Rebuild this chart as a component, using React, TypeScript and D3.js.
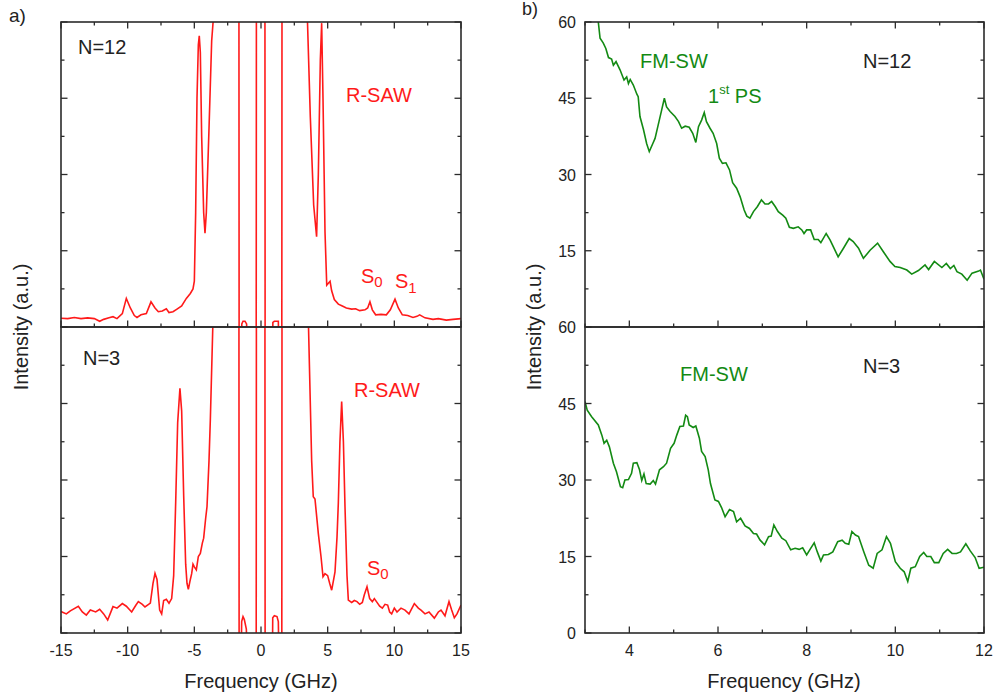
import React from 'react';
import * as d3 from 'd3';

// a) Brillouin spectra, intensity in arbitrary units (0-8 visible); 12 / -1 mean off-scale
const spectrumN12: [number, number][] = [
  [-15, 0.23], [-14.5, 0.22], [-14, 0.25], [-13.5, 0.22], [-13, 0.24], [-12.5, 0.22], [-12.1, 0.15],
  [-11.8, 0.2], [-11.4, 0.24], [-11.1, 0.27], [-10.8, 0.22], [-10.4, 0.35], [-10.1, 0.75], [-9.8, 0.5],
  [-9.5, 0.3], [-9.3, 0.25], [-9.0, 0.32], [-8.6, 0.35], [-8.25, 0.66], [-7.95, 0.5], [-7.7, 0.4],
  [-7.4, 0.42], [-7.1, 0.48], [-6.9, 0.38], [-6.6, 0.4], [-6.3, 0.47], [-5.95, 0.55], [-5.6, 0.75],
  [-5.3, 0.88], [-5.1, 1.0], [-5.0, 1.2], [-4.9, 3.0], [-4.8, 6.0], [-4.7, 7.4], [-4.63, 7.64],
  [-4.55, 7.2], [-4.45, 5.0], [-4.3, 3.0], [-4.2, 2.46], [-4.1, 3.0], [-3.9, 5.2], [-3.7, 7.5],
  [-3.55, 8.2], [-3.3, 12], [-1.66, 12], [-1.64, -1], [-1.47, -1], [-1.44, 0.08], [-1.35, 0.15],
  [-1.2, 0.15], [-1.08, 0.08], [-1.0, -1], [-0.36, -1], [-0.34, 12], [0.29, 12], [0.31, -1],
  [0.86, -1], [0.89, 0.12], [1.0, 0.15], [1.3, 0.15], [1.36, -1], [1.56, -1], [1.58, 12], [3.2, 12],
  [3.47, 8.2], [3.7, 5.5], [3.95, 3.2], [4.17, 2.37], [4.3, 4.0], [4.45, 7.0], [4.55, 7.97],
  [4.65, 6.0], [4.8, 2.5], [4.93, 1.1], [5.05, 1.15], [5.18, 1.2], [5.3, 0.95], [5.5, 0.72],
  [5.8, 0.6], [6.1, 0.55], [6.4, 0.5], [6.8, 0.47], [7.1, 0.48], [7.4, 0.43], [7.8, 0.45],
  [8.0, 0.5], [8.17, 0.66], [8.35, 0.45], [8.6, 0.32], [9.0, 0.33], [9.4, 0.32], [9.7, 0.45],
  [10.05, 0.73], [10.3, 0.5], [10.6, 0.32], [11.0, 0.3], [11.4, 0.25], [11.7, 0.28], [11.9, 0.32],
  [12.3, 0.24], [12.9, 0.2], [13.3, 0.22], [13.9, 0.18], [14.4, 0.2], [15, 0.22],
];

const spectrumN3: [number, number][] = [
  [-15, 0.56], [-14.6, 0.5], [-14.3, 0.58], [-13.7, 0.7], [-13.4, 0.55], [-13.1, 0.47], [-12.8, 0.6],
  [-12.4, 0.55], [-12.1, 0.62], [-11.8, 0.5], [-11.5, 0.34], [-11.1, 0.69], [-10.8, 0.65], [-10.4, 0.77],
  [-10.1, 0.7], [-9.7, 0.55], [-9.4, 0.72], [-9.2, 0.82], [-8.9, 0.75], [-8.7, 0.68], [-8.3, 0.78],
  [-8.1, 1.3], [-7.95, 1.56], [-7.8, 1.4], [-7.6, 0.6], [-7.45, 0.5], [-7.3, 0.85], [-7.1, 0.88],
  [-6.9, 0.78], [-6.7, 0.9], [-6.55, 1.5], [-6.4, 3.4], [-6.25, 5.5], [-6.08, 6.4], [-5.95, 5.8],
  [-5.8, 3.6], [-5.65, 1.8], [-5.55, 1.3], [-5.45, 1.14], [-5.3, 1.4], [-5.2, 1.55], [-5.1, 1.8],
  [-5.0, 1.73], [-4.85, 1.65], [-4.7, 2.0], [-4.55, 2.08], [-4.4, 2.35], [-4.3, 2.48], [-4.15, 3.0],
  [-4.05, 3.3], [-3.9, 4.5], [-3.8, 5.57], [-3.6, 8.2], [-3.4, 12], [-1.66, 12], [-1.64, -1],
  [-1.5, -1], [-1.45, 0.3], [-1.35, 0.43], [-1.25, 0.35], [-1.1, 0.1], [-1.0, -1], [-0.36, -1],
  [-0.34, 12], [0.29, 12], [0.31, -1], [0.85, -1], [0.88, 0.4], [1.0, 0.45], [1.2, 0.43], [1.3, 0.3],
  [1.36, -1], [1.56, -1], [1.58, 12], [3.3, 12], [3.55, 8.2], [3.8, 4.5], [3.92, 3.56], [4.05, 3.5],
  [4.3, 2.6], [4.5, 2.0], [4.65, 1.47], [4.8, 1.55], [5.0, 1.5], [5.15, 1.3], [5.3, 1.12], [5.45, 1.4],
  [5.55, 1.6], [5.7, 2.5], [5.8, 3.4], [5.92, 5.0], [6.05, 6.05], [6.18, 5.0], [6.3, 3.3], [6.45, 1.5],
  [6.55, 0.86], [6.8, 0.8], [7.0, 0.85], [7.2, 0.82], [7.4, 0.75], [7.6, 0.8], [7.75, 1.0], [7.95, 1.21],
  [8.15, 0.9], [8.35, 0.82], [8.5, 0.9], [8.7, 0.8], [8.9, 0.7], [9.1, 0.65], [9.3, 0.75], [9.5, 0.73],
  [9.65, 0.55], [9.8, 0.5], [10.0, 0.65], [10.2, 0.55], [10.5, 0.65], [10.8, 0.6], [11.1, 0.5],
  [11.5, 0.77], [11.8, 0.65], [12.0, 0.6], [12.3, 0.5], [12.6, 0.55], [13.0, 0.39], [13.3, 0.55],
  [13.5, 0.6], [13.8, 0.45], [14.1, 0.82], [14.3, 0.6], [14.5, 0.4], [14.7, 0.5], [15, 0.73],
];

// b) zoom on the spin-wave region
const swN12: [number, number][] = [
  [3.3, 60], [3.34, 56.8], [3.41, 55.9], [3.47, 54.8], [3.53, 53.0], [3.6, 52.7], [3.64, 51.5],
  [3.7, 52.2], [3.79, 50.6], [3.88, 48.6], [3.94, 49.2], [3.98, 47.9], [4.02, 48.7], [4.09, 47.6],
  [4.17, 45.8], [4.2, 45.3], [4.24, 41.4], [4.32, 38.8], [4.39, 36.1], [4.45, 34.5], [4.53, 36.1],
  [4.58, 37.1], [4.65, 39.7], [4.73, 42.7], [4.79, 45.0], [4.84, 43.3], [4.92, 42.4], [5.03, 41.4],
  [5.11, 40.4], [5.18, 39.1], [5.26, 39.5], [5.35, 39.3], [5.43, 38.1], [5.5, 36.3], [5.56, 39.4],
  [5.63, 40.7], [5.69, 42.2], [5.74, 40.4], [5.82, 39.1], [5.89, 38.1], [5.97, 36.1], [6.03, 33.2],
  [6.1, 32.2], [6.18, 32.3], [6.26, 30.9], [6.33, 28.4], [6.42, 27.3], [6.5, 25.6], [6.59, 23.0],
  [6.65, 21.8], [6.72, 21.4], [6.8, 22.7], [6.89, 23.7], [6.98, 25.0], [7.06, 24.2], [7.14, 24.2],
  [7.21, 24.7], [7.29, 23.7], [7.36, 22.7], [7.46, 22.0], [7.53, 21.4], [7.61, 19.6], [7.7, 19.4],
  [7.81, 19.7], [7.89, 19.1], [7.94, 18.4], [8.0, 19.1], [8.09, 19.1], [8.17, 17.2], [8.26, 17.2],
  [8.32, 16.6], [8.44, 18.4], [8.53, 17.1], [8.6, 15.8], [8.71, 13.8], [8.83, 15.5], [8.96, 17.4],
  [9.05, 16.8], [9.17, 15.5], [9.28, 13.5], [9.43, 15.1], [9.6, 16.5], [9.73, 14.8], [9.88, 12.9],
  [9.99, 11.9], [10.11, 11.7], [10.26, 11.2], [10.37, 10.4], [10.52, 11.1], [10.67, 12.2], [10.75, 11.3],
  [10.88, 12.9], [11.05, 11.7], [11.15, 12.5], [11.24, 11.5], [11.32, 12.1], [11.39, 10.9], [11.5, 10.4],
  [11.62, 9.2], [11.73, 10.6], [11.88, 11.0], [11.92, 11.2], [12, 9.4],
];

const swN3: [number, number][] = [
  [3, 45.4], [3.05, 43.7], [3.15, 42.4], [3.3, 40.8], [3.38, 38.8], [3.43, 37.2], [3.49, 37.8],
  [3.55, 36.5], [3.64, 33.3], [3.71, 31.6], [3.8, 28.7], [3.85, 28.5], [3.9, 30.0], [3.98, 30.1],
  [4.05, 31.3], [4.09, 33.3], [4.17, 33.4], [4.23, 32.0], [4.28, 29.9], [4.33, 31.2], [4.38, 29.3],
  [4.47, 29.2], [4.54, 29.9], [4.59, 29.2], [4.68, 32.0], [4.77, 32.6], [4.84, 33.3], [4.93, 36.2],
  [5.01, 37.2], [5.07, 38.8], [5.14, 40.5], [5.22, 40.6], [5.27, 42.7], [5.31, 42.4], [5.35, 40.8],
  [5.44, 40.3], [5.5, 40.6], [5.58, 38.2], [5.63, 35.6], [5.71, 34.6], [5.78, 32.0], [5.83, 29.3],
  [5.93, 26.1], [6.01, 25.8], [6.08, 24.6], [6.16, 22.8], [6.26, 24.2], [6.35, 23.8], [6.42, 21.8],
  [6.51, 22.5], [6.61, 21.0], [6.71, 20.5], [6.8, 19.5], [6.87, 19.4], [6.95, 18.2], [7.05, 17.3],
  [7.14, 18.9], [7.2, 19.0], [7.26, 21.2], [7.34, 19.9], [7.44, 18.6], [7.53, 18.1], [7.64, 16.3],
  [7.74, 16.6], [7.83, 16.4], [7.91, 16.7], [8.0, 15.3], [8.09, 16.6], [8.17, 17.7], [8.24, 15.9],
  [8.32, 14.1], [8.38, 15.3], [8.49, 15.4], [8.59, 15.9], [8.7, 17.9], [8.8, 18.2], [8.87, 17.6],
  [8.95, 17.4], [9.02, 19.9], [9.1, 19.2], [9.17, 18.9], [9.29, 15.9], [9.4, 13.3], [9.5, 12.7],
  [9.59, 15.6], [9.7, 16.3], [9.8, 18.9], [9.89, 17.6], [10.0, 14.0], [10.11, 12.7], [10.2, 12.0],
  [10.28, 10.1], [10.35, 12.7], [10.45, 13.0], [10.55, 15.0], [10.64, 15.8], [10.71, 15.0], [10.8, 15.0],
  [10.88, 13.8], [10.98, 13.8], [11.08, 15.6], [11.18, 16.4], [11.28, 15.6], [11.38, 15.6], [11.47, 15.9],
  [11.59, 17.5], [11.69, 16.1], [11.8, 14.8], [11.89, 12.7], [12, 12.9],
];

const leftXTicks = d3.range(-15, 15.01, 2.5);
const leftXLabels = [-15, -10, -5, 0, 5, 10, 15];
const leftYTicks = d3.range(0, 8.01, 1);
const rightXTicks = d3.range(3, 12.01, 1);
const rightXLabels = [4, 6, 8, 10, 12];
const rightYTicks = d3.range(0, 60.01, 7.5);
const rightYLabels = [0, 15, 30, 45, 60];

const RED = '#ff1a1a';
const GREEN = '#138a13';
const AXIS = '#2b2b2b';
const FONT = '"Liberation Sans", Arial, sans-serif';

const TOP = 22, MID = 327, BOT = 633;

type Scale = d3.ScaleLinear<number, number>;

function Frame({ x, y, top, bottom, xTicks, xMajor, yTicks, yMajor, topTicks }: {
  x: Scale; y: Scale; top: number; bottom: number;
  xTicks: number[]; xMajor: (v: number) => boolean;
  yTicks: number[]; yMajor: (v: number) => boolean; topTicks: boolean;
}) {
  const [x0, x1] = x.range();
  const len = (m: boolean) => (m ? 6.5 : 3.5);
  return (
    <g stroke={AXIS} fill="none">
      {xTicks.map((t, i) => (
        <g key={'x' + i}>
          <line x1={x(t)} x2={x(t)} y1={bottom} y2={bottom - len(xMajor(t))} strokeWidth={1.3} />
          {topTicks && <line x1={x(t)} x2={x(t)} y1={top} y2={top + len(xMajor(t))} strokeWidth={1.3} />}
        </g>
      ))}
      {yTicks.map((t, i) => (
        <g key={'y' + i}>
          <line x1={x0} x2={x0 + len(yMajor(t))} y1={y(t)} y2={y(t)} strokeWidth={1.3} />
          <line x1={x1} x2={x1 - len(yMajor(t))} y1={y(t)} y2={y(t)} strokeWidth={1.3} />
        </g>
      ))}
      <rect x={x0} y={top} width={x1 - x0} height={bottom - top} strokeWidth={1.6} />
    </g>
  );
}

export default function App() {
  const xL = d3.scaleLinear().domain([-15, 15]).range([61, 461]);
  const xR = d3.scaleLinear().domain([3, 12]).range([585, 984]);
  const yLTop = d3.scaleLinear().domain([0, 8]).range([MID, TOP]);
  const yLBot = d3.scaleLinear().domain([0, 8]).range([BOT, MID]);
  const yRTop = d3.scaleLinear().domain([0, 60]).range([MID, TOP]);
  const yRBot = d3.scaleLinear().domain([0, 60]).range([BOT, MID]);

  const path = (x: Scale, y: Scale, data: [number, number][]) =>
    d3.line<[number, number]>().x(d => x(d[0])).y(d => y(d[1]))(data) || '';

  const isInt = (v: number) => Math.abs(v % 5) < 1e-6;
  const isEven = (v: number) => Math.abs(v % 2) < 1e-6;
  const is15 = (v: number) => Math.abs(v % 15) < 1e-6;

  return (
    <div style={{ position: 'absolute', left: 0, top: 0 }}>
      <svg width={997} height={698} style={{ display: 'block', background: '#fff' }} fontFamily={FONT}>
        <defs>
          <clipPath id="cLT"><rect x={61} y={TOP} width={400} height={MID - TOP} /></clipPath>
          <clipPath id="cLB"><rect x={61} y={MID} width={400} height={BOT - MID} /></clipPath>
          <clipPath id="cRT"><rect x={585} y={TOP} width={399} height={MID - TOP} /></clipPath>
          <clipPath id="cRB"><rect x={585} y={MID} width={399} height={BOT - MID} /></clipPath>
        </defs>

        {/* curves */}
        <path d={path(xL, yLTop, spectrumN12)} clipPath="url(#cLT)" fill="none" stroke={RED} strokeWidth={1.6} />
        <path d={path(xL, yLBot, spectrumN3)} clipPath="url(#cLB)" fill="none" stroke={RED} strokeWidth={1.6} />
        <path d={path(xR, yRTop, swN12)} clipPath="url(#cRT)" fill="none" stroke={GREEN} strokeWidth={1.6} />
        <path d={path(xR, yRBot, swN3)} clipPath="url(#cRB)" fill="none" stroke={GREEN} strokeWidth={1.6} />

        {/* frames */}
        <Frame x={xL} y={yLTop} top={TOP} bottom={MID} xTicks={leftXTicks} xMajor={isInt} yTicks={leftYTicks} yMajor={isEven} topTicks />
        <Frame x={xL} y={yLBot} top={MID} bottom={BOT} xTicks={leftXTicks} xMajor={isInt} yTicks={leftYTicks} yMajor={isEven} topTicks={false} />
        <Frame x={xR} y={yRTop} top={TOP} bottom={MID} xTicks={rightXTicks} xMajor={isEven} yTicks={rightYTicks} yMajor={is15} topTicks />
        <Frame x={xR} y={yRBot} top={MID} bottom={BOT} xTicks={rightXTicks} xMajor={isEven} yTicks={rightYTicks} yMajor={is15} topTicks={false} />

        {/* tick labels */}
        <g fontSize={16} fill="#222" textAnchor="middle">
          {leftXLabels.map(v => <text key={'lx' + v} x={xL(v)} y={656}>{v}</text>)}
          {rightXLabels.map(v => <text key={'rx' + v} x={xR(v)} y={656}>{v}</text>)}
        </g>
        <g fontSize={16} fill="#222" textAnchor="end">
          {rightYLabels.filter(v => v > 0).map(v => <text key={'rt' + v} x={576} y={yRTop(v) + 6}>{v}</text>)}
          {rightYLabels.map(v => <text key={'rb' + v} x={576} y={yRBot(v) + 6}>{v}</text>)}
        </g>

        {/* axis titles */}
        <g fontSize={20} fill="#222" textAnchor="middle">
          <text x={261} y={688}>Frequency (GHz)</text>
          <text x={784} y={688}>Frequency (GHz)</text>
          <text transform={`translate(28,${MID}) rotate(-90)`}>Intensity (a.u.)</text>
          <text transform={`translate(541,${MID}) rotate(-90)`}>Intensity (a.u.)</text>
        </g>

        {/* panel letters */}
        <text x={9} y={22} fontSize={19} fill="#222">a)</text>
        <text x={522} y={15} fontSize={18} fill="#222">b)</text>

        {/* annotations, panel a */}
        <g fontSize={20}>
          <text x={78} y={54} fill="#222">N=12</text>
          <text x={346} y={102} fill={RED}>R-SAW</text>
          <text x={361} y={283} fill={RED}>S<tspan fontSize={15} dy={4}>0</tspan></text>
          <text x={395} y={288} fill={RED}>S<tspan fontSize={15} dy={5}>1</tspan></text>
          <text x={83} y={365} fill="#222">N=3</text>
          <text x={354} y={397} fill={RED}>R-SAW</text>
          <text x={367} y={575} fill={RED}>S<tspan fontSize={15} dy={4}>0</tspan></text>
        </g>

        {/* annotations, panel b */}
        <g fontSize={20}>
          <text x={640} y={68} fill={GREEN}>FM-SW</text>
          <text x={863} y={68} fill="#222">N=12</text>
          <text x={708} y={103} fill={GREEN}>1<tspan fontSize={13} dy={-9}>st</tspan><tspan dy={9}> PS</tspan></text>
          <text x={680} y={381} fill={GREEN}>FM-SW</text>
          <text x={863} y={373} fill="#222">N=3</text>
        </g>
      </svg>
    </div>
  );
}
